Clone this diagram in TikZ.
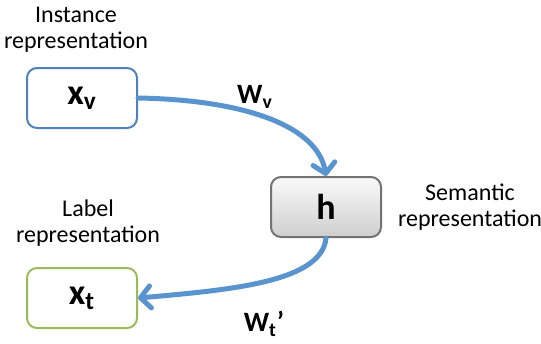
\documentclass[tikz,border=0pt]{standalone}
\usepackage{fontspec}
\setmainfont{Carlito}
\usepackage{tikz}
\usetikzlibrary{arrows.meta, positioning, calc}
\definecolor{BoxBlue}{HTML}{4F81BD}
\definecolor{BoxGreen}{HTML}{9BBB59}
\definecolor{ArrBlue}{HTML}{5A94CF}

\begin{document}
\begin{tikzpicture}[x=0.5pt, y=-0.5pt,
    repbox/.style={draw, line width=1pt, rounded corners=5pt, fill=white,
      minimum width=55pt, minimum height=30pt, inner sep=0pt,
      font=\fontsize{18}{20}\selectfont\bfseries},
    caption/.style={align=center, font=\fontsize{12}{13}\selectfont},
    wlabel/.style={font=\fontsize{14}{16}\selectfont\bfseries},
    maparrow/.style={ArrBlue, line width=2.5pt, line cap=round,
      -{Straight Barb[length=5pt, width=11pt, line cap=round, line join=round]}}]
  \useasboundingbox (0,0) rectangle (541,343);
  % Boxes
  \node[repbox, draw=BoxBlue] (xv) at (82,98) {x\textsubscript{v}};
  \node[repbox, draw=black!55, top color=gray!4, bottom color=gray!38] (h)
    at (326,207) {h};
  \node[repbox, draw=BoxGreen] (xt) at (82,298) {x\textsubscript{t}};
  % Captions
  \node[caption] (capv) at (76,30) {Instance\\representation};
  \node[caption] (caph) at (470,207) {Semantic\\representation};
  \node[caption] (capt) at (88,223) {Label\\representation};
  % Mappings
  \draw[maparrow] (xv.east) .. controls (250,100) and (318,128) .. (h.north);
  \draw[maparrow] (h.south) .. controls (322,282) and (230,290) .. (xt.east);
  \node[wlabel] (wv) at (255,97) {W\textsubscript{v}};
  \node[wlabel] (wt) at (264,324) {W\textsubscript{t}’};
\end{tikzpicture}
\end{document}
